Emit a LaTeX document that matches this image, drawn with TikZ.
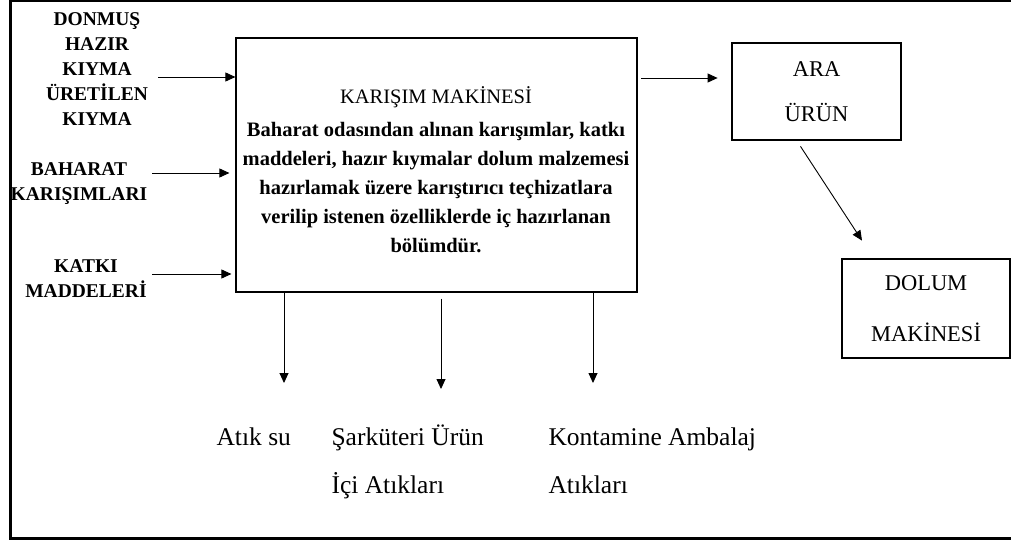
\documentclass[tikz,border=0pt]{standalone}
\usepackage{fontspec}
\setmainfont{Liberation Serif}
\usetikzlibrary{arrows.meta}
\tikzset{
  box/.style={draw, line width=1.2pt},
  thickbox/.style={draw, line width=2.8pt, align=center},
  flow/.style={-{Triangle[length=10pt,width=9pt]}, line width=0.9pt},
  inlabel/.style={font=\fontsize{19.5}{25}\selectfont\bfseries, align=center, anchor=base},
  outlabel/.style={font=\fontsize{25.5}{48}\selectfont, align=left, anchor=base west}
}
\begin{document}
\begin{tikzpicture}[x=1pt,y=-1pt]
      \useasboundingbox (0,0) rectangle (1011,543);
      \clip (0,0) rectangle (1011,543);
      % frame
      \draw[line width=2pt] (10,1) -- (1020,1);
      \draw[line width=3pt] (10,0) -- (10,538) -- (1020,538);
      % machines
      \node[box, minimum width=401pt, minimum height=254pt] (mix) at (436.5,165) {};
      \node[font=\fontsize{20.5}{29}\selectfont\bfseries, align=center, anchor=base] (mixtext) at (436,252)
        {{\mdseries KARIŞIM MAKİNESİ}\\[4pt]
         Baharat odasından alınan karışımlar, katkı\\
         maddeleri, hazır kıymalar dolum malzemesi\\
         hazırlamak üzere karıştırıcı teçhizatlara\\
         verilip istenen özelliklerde iç hazırlanan\\
         bölümdür.};
      \node[thickbox, minimum width=169pt, minimum height=97pt, font=\fontsize{22.5}{45}\selectfont] (ara) at (816.5,91.5) {ARA\\ÜRÜN};
      \node[thickbox, minimum width=168pt, minimum height=99pt, font=\fontsize{22.5}{51}\selectfont] (dolum) at (926,308.5) {DOLUM\\MAKİNESİ};
      % inputs
      \node[inlabel] (kiyma) at (97,125) {DONMUŞ\\HAZIR\\KIYMA\\ÜRETİLEN\\KIYMA};
      \node[inlabel] (baharat) at (79,200) {BAHARAT\\KARIŞIMLARI};
      \node[inlabel] (katki) at (86,297) {KATKI\\MADDELERİ};
      % wastes
      \node[outlabel] (atiksu) at (213,445) {Atık su};
      \node[outlabel] (sarkuteri) at (328,493) {Şarküteri Ürün\\İçi Atıkları};
      \node[outlabel] (ambalaj) at (545,493) {Kontamine Ambalaj\\Atıkları};
      \coordinate (in1) at (158,77);
      \coordinate (in2) at (152,173);
      \coordinate (in3) at (152,274);
      \coordinate (out1) at (641,78);
      \coordinate (w1) at (284,383);
      \coordinate (w2) at (441,389);
      \coordinate (w3) at (593,383);
      \begin{scope}[flow]
        \draw (in1) -- (in1 -| mix.west);
        \draw[shorten >=6pt] (in2) -- (in2 -| mix.west);
        \draw[shorten >=4pt] (in3) -- (in3 -| mix.west);
        \draw[shorten >=13pt] (out1) -- (out1 -| ara.west);
        \draw ([xshift=-16pt,yshift=-5pt]ara.south) -- ([xshift=-64pt,yshift=17pt]dolum.north);
        \draw (w1 |- mix.south) -- (w1);
        \draw[shorten <=6pt] (w2 |- mix.south) -- (w2);
        \draw (w3 |- mix.south) -- (w3);
      \end{scope}
    \end{tikzpicture}
\end{document}
